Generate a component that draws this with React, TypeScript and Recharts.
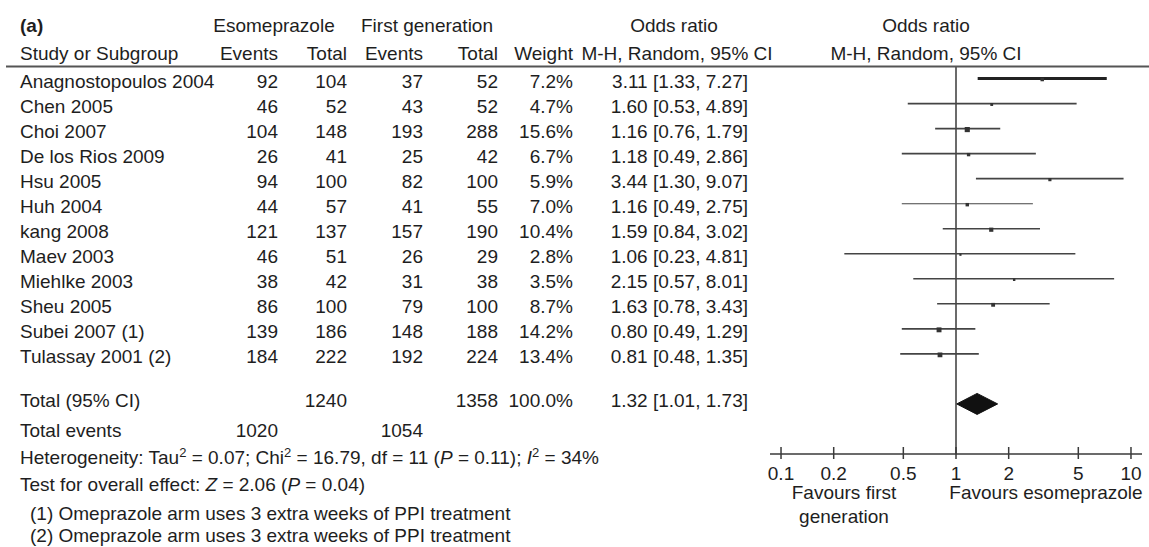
import React from "react";
import { ScatterChart, Scatter, XAxis, YAxis, ReferenceLine } from "recharts";

// study rows, top to bottom
const studies = [
  "Anagnostopoulos 2004",
  "Chen 2005",
  "Choi 2007",
  "De los Rios 2009",
  "Hsu 2005",
  "Huh 2004",
  "kang 2008",
  "Maev 2003",
  "Miehlke 2003",
  "Sheu 2005",
  "Subei 2007 (1)",
  "Tulassay 2001 (2)",
];
const esoEvents = [92, 46, 104, 26, 94, 44, 121, 46, 38, 86, 139, 184];
const esoTotal = [104, 52, 148, 41, 100, 57, 137, 51, 42, 100, 186, 222];
const firstEvents = [37, 43, 193, 25, 82, 41, 157, 26, 31, 79, 148, 192];
const firstTotal = [52, 52, 288, 42, 100, 55, 190, 29, 38, 100, 188, 224];
const weights = [7.2, 4.7, 15.6, 6.7, 5.9, 7.0, 10.4, 2.8, 3.5, 8.7, 14.2, 13.4];
const oddsRatio = [3.11, 1.6, 1.16, 1.18, 3.44, 1.16, 1.59, 1.06, 2.15, 1.63, 0.8, 0.81];
const ciLow = [1.33, 0.53, 0.76, 0.49, 1.3, 0.49, 0.84, 0.23, 0.57, 0.78, 0.49, 0.48];
const ciHigh = [7.27, 4.89, 1.79, 2.86, 9.07, 2.75, 3.02, 4.81, 8.01, 3.43, 1.29, 1.35];

// pooled result
const pooledOR = 1.32;
const pooledLow = 1.01;
const pooledHigh = 1.73;
const totalEsoEvents = 1020;
const totalEsoN = 1240;
const totalFirstEvents = 1054;
const totalFirstN = 1358;
const totalWeight = 100.0;

const axisTicks = [0.1, 0.2, 0.5, 1, 2, 5, 10];

const W = 1149;
const H = 547;
const FONT = '"Liberation Sans", Arial, Helvetica, sans-serif';
const FS = 19;
const TEXT = "#1e1e1e";
const LINE = "#3a3a3a";
const TOTAL_ROW = 13;

// line widths per study (first one is drawn heavier in the original)
const ciWidth = [3, 1.7, 1.7, 1.6, 1.6, 1.1, 1.6, 1.6, 1.6, 1.4, 1.7, 1.7];

const pointData = studies.map((s, i) => ({ name: s, x: oddsRatio[i], y: i, w: weights[i] }));
const diamondData = [
  { x: pooledLow, y: TOTAL_ROW },
  { x: pooledOR, y: TOTAL_ROW - 0.42 },
  { x: pooledHigh, y: TOTAL_ROW },
  { x: pooledOR, y: TOTAL_ROW + 0.42 },
];

const fmtCI = (o: number, l: number, h: number) => `${o.toFixed(2)} [${l.toFixed(2)}, ${h.toFixed(2)}]`;

function AxisTick(props: any) {
  const { x, y, payload } = props;
  return (
    <g>
      <line x1={x} x2={x} y1={y - 7} y2={y + 5} stroke={LINE} strokeWidth={1.5} />
      <text x={x} y={y + 26} textAnchor="middle" fontFamily={FONT} fontSize={FS} fill={TEXT}>
        {payload.value}
      </text>
    </g>
  );
}

function WeightSquare(props: any) {
  const { cx, cy, payload } = props;
  const s = 1.3 * Math.sqrt(payload.w);
  return <rect x={cx - s / 2} y={cy - s / 2 + 1} width={s} height={s} fill="#333" />;
}

function DiamondPoly(props: any) {
  const pts = (props.points || []).map((p: any) => `${p.x},${p.y}`).join(" ");
  return <polygon points={pts} fill="#111" stroke="#111" strokeWidth={1} />;
}

function T(props: any) {
  const { children, ...rest } = props;
  return (
    <text fontFamily={FONT} fontSize={FS} fill={TEXT} {...rest}>
      {children}
    </text>
  );
}

function TableText() {
  const col = { esoE: 278, esoT: 347, firstE: 423, firstT: 498, weight: 573, or: 748 };
  const sup = { baselineShift: "super", fontSize: 13 } as any;
  return (
    <svg width={W} height={H} style={{ position: "absolute", left: 0, top: 0, pointerEvents: "none" }}>
      {/* headers */}
      <T x={20} y={32} fontWeight="bold">(a)</T>
      <T x={274} y={32} textAnchor="middle">Esomeprazole</T>
      <T x={427} y={32} textAnchor="middle">First generation</T>
      <T x={674} y={32} textAnchor="middle">Odds ratio</T>
      <T x={926} y={32} textAnchor="middle">Odds ratio</T>
      <T x={20} y={60}>Study or Subgroup</T>
      <T x={col.esoE} y={60} textAnchor="end">Events</T>
      <T x={col.esoT} y={60} textAnchor="end">Total</T>
      <T x={col.firstE} y={60} textAnchor="end">Events</T>
      <T x={col.firstT} y={60} textAnchor="end">Total</T>
      <T x={col.weight} y={60} textAnchor="end">Weight</T>
      <T x={677} y={60} textAnchor="middle">M-H, Random, 95% CI</T>
      <T x={926} y={60} textAnchor="middle">M-H, Random, 95% CI</T>
      <line x1={6} x2={W} y1={66.5} y2={66.5} stroke="#555" strokeWidth={2} />

      {/* study rows */}
      {studies.map((s, i) => {
        const y = 88 + 25 * i;
        return (
          <g key={s}>
            <T x={20} y={y}>{s}</T>
            <T x={col.esoE} y={y} textAnchor="end">{esoEvents[i]}</T>
            <T x={col.esoT} y={y} textAnchor="end">{esoTotal[i]}</T>
            <T x={col.firstE} y={y} textAnchor="end">{firstEvents[i]}</T>
            <T x={col.firstT} y={y} textAnchor="end">{firstTotal[i]}</T>
            <T x={col.weight} y={y} textAnchor="end">{weights[i].toFixed(1)}%</T>
            <T x={col.or} y={y} textAnchor="end">{fmtCI(oddsRatio[i], ciLow[i], ciHigh[i])}</T>
          </g>
        );
      })}

      {/* totals */}
      <T x={20} y={407}>Total (95% CI)</T>
      <T x={col.esoT} y={407} textAnchor="end">{totalEsoN}</T>
      <T x={col.firstT} y={407} textAnchor="end">{totalFirstN}</T>
      <T x={col.weight} y={407} textAnchor="end">{totalWeight.toFixed(1)}%</T>
      <T x={col.or} y={407} textAnchor="end">{fmtCI(pooledOR, pooledLow, pooledHigh)}</T>
      <T x={20} y={437}>Total events</T>
      <T x={col.esoE} y={437} textAnchor="end">{totalEsoEvents}</T>
      <T x={col.firstE} y={437} textAnchor="end">{totalFirstEvents}</T>
      <T x={20} y={464}>
        Heterogeneity: Tau<tspan {...sup}>2</tspan> = 0.07; Chi<tspan {...sup}>2</tspan> = 16.79, df = 11 (
        <tspan fontStyle="italic">P</tspan> = 0.11); <tspan fontStyle="italic">I</tspan>
        <tspan {...sup}>2</tspan> = 34%
      </T>
      <T x={20} y={491}>
        Test for overall effect: <tspan fontStyle="italic">Z</tspan> = 2.06 (<tspan fontStyle="italic">P</tspan> = 0.04)
      </T>
      <T x={30} y={520}>(1) Omeprazole arm uses 3 extra weeks of PPI treatment</T>
      <T x={30} y={542}>(2) Omeprazole arm uses 3 extra weeks of PPI treatment</T>

      {/* axis captions */}
      <T x={844} y={499} textAnchor="middle">Favours first</T>
      <T x={844} y={523} textAnchor="middle">generation</T>
      <T x={1046} y={499} textAnchor="middle">Favours esomeprazole</T>
    </svg>
  );
}

export default function App() {
  return (
    <div style={{ position: "absolute", left: 0, top: 0, width: W, height: H, background: "#fff" }}>
      <ScatterChart width={W} height={H} margin={{ top: 66, right: 7, bottom: 53, left: 770 }}>
        <XAxis
          type="number"
          dataKey="x"
          scale="log"
          domain={[0.0865, 11.56]}
          ticks={axisTicks}
          allowDataOverflow
          height={40}
          tickLine={false}
          tickSize={0}
          tickMargin={0}
          axisLine={{ stroke: LINE, strokeWidth: 1.5 }}
          tick={<AxisTick />}
          interval={0}
        />
        <YAxis type="number" dataKey="y" domain={[-0.5, 15]} reversed hide width={0} />
        <ReferenceLine x={1} stroke={LINE} strokeWidth={1.5} />
        {studies.map((s, i) => (
          <ReferenceLine
            key={s}
            segment={[
              { x: ciLow[i], y: i },
              { x: ciHigh[i], y: i },
            ]}
            stroke={i === 0 ? "#222" : "#444"}
            strokeWidth={ciWidth[i]}
          />
        ))}
        <Scatter data={pointData} shape={<WeightSquare />} isAnimationActive={false} />
        <Scatter
          data={diamondData}
          shape={() => <g />}
          line={(p: any) => <DiamondPoly {...p} />}
          isAnimationActive={false}
        />
      </ScatterChart>
      <TableText />
    </div>
  );
}
